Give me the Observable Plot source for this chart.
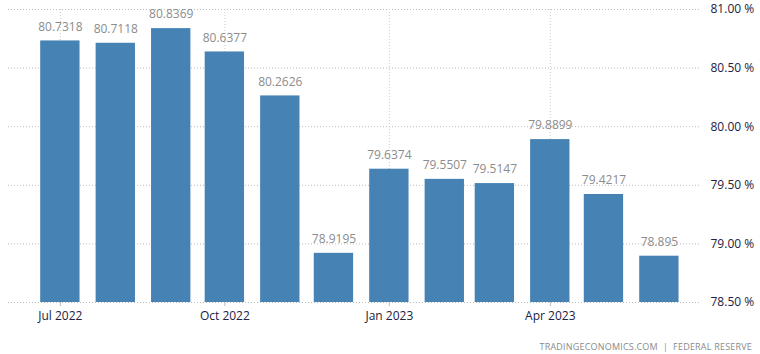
<!DOCTYPE html>
<html>
<head>
<meta charset="utf-8">
<script src="https://cdn.jsdelivr.net/npm/d3@7"></script>
<script src="https://cdn.jsdelivr.net/npm/@observablehq/plot@0.6"></script>
<style>
  html, body { margin: 0; padding: 0; background: #fff; }
  #chart { width: 760px; height: 354px; position: relative; overflow: hidden; }
  #caption { position: absolute; right: 8px; top: 340px; font: 9px "Open Sans", sans-serif; color: #8a8a8a; letter-spacing: 0.2px; }
</style>
</head>
<body>
<div id="chart"><div id="caption">TRADINGECONOMICS.COM &nbsp;|&nbsp; FEDERAL RESERVE</div></div>
<script>
const months = ["2022-07-01","2022-08-01","2022-09-01","2022-10-01","2022-11-01","2022-12-01",
                "2023-01-01","2023-02-01","2023-03-01","2023-04-01","2023-05-01","2023-06-01"];
const values = [80.7318, 80.7118, 80.8369, 80.6377, 80.2626, 78.9195,
                79.6374, 79.5507, 79.5147, 79.8899, 79.4217, 78.895];
const tickDates = ["2022-07-01","2022-10-01","2023-01-01","2023-04-01"];
const yTicks = [78.5, 79.0, 79.5, 80.0, 80.5, 81.0];

const data = months.map((m, i) => ({date: new Date(m + "T00:00:00Z"), value: values[i]}));
const xt = tickDates.map(d => new Date(d + "T00:00:00Z"));
const half = 11;
const font = '"Open Sans", sans-serif';

const plot = Plot.plot({
  width: 760,
  height: 336,
  marginLeft: 8,
  marginRight: 60,
  marginTop: 9,
  marginBottom: 34,
  style: {fontFamily: font, fontSize: "12px", background: "#fff"},
  x: {type: "utc", label: null, domain: [new Date("2022-06-02T00:00:00Z"), new Date("2023-06-24T00:00:00Z")]},
  y: {label: null, domain: [78.5, 81.0]},
  marks: [
    Plot.gridY(yTicks, {stroke: "#bbb", strokeOpacity: 1, strokeDasharray: "1,2"}),
    Plot.gridX(xt, {stroke: "#ccc", strokeOpacity: 1, strokeDasharray: "1,2"}),
    Plot.rectY(data, {
      x1: d => d3.utcDay.offset(d.date, -half),
      x2: d => d3.utcDay.offset(d.date, half),
      y1: 78.5, y2: "value", fill: "#4682b4"
    }),
    Plot.text(data, {x: "date", y: "value", text: d => String(d.value), dy: -14, fill: "#8c8c8c", fontSize: 12}),
    Plot.axisX(xt, {label: null, tickFormat: d3.utcFormat("%b %Y"), tickSize: 4, tickPadding: 5, stroke: "#bbb", fill: "#222244", fontSize: 12}),
    Plot.axisY(yTicks, {label: null, anchor: "right", tickSize: 0, tickPadding: 10, textAnchor: "start", tickFormat: d => d.toFixed(2) + " %", fill: "#222244", fontSize: 12})
  ]
});
document.getElementById("chart").prepend(plot);
</script>
</body>
</html>
